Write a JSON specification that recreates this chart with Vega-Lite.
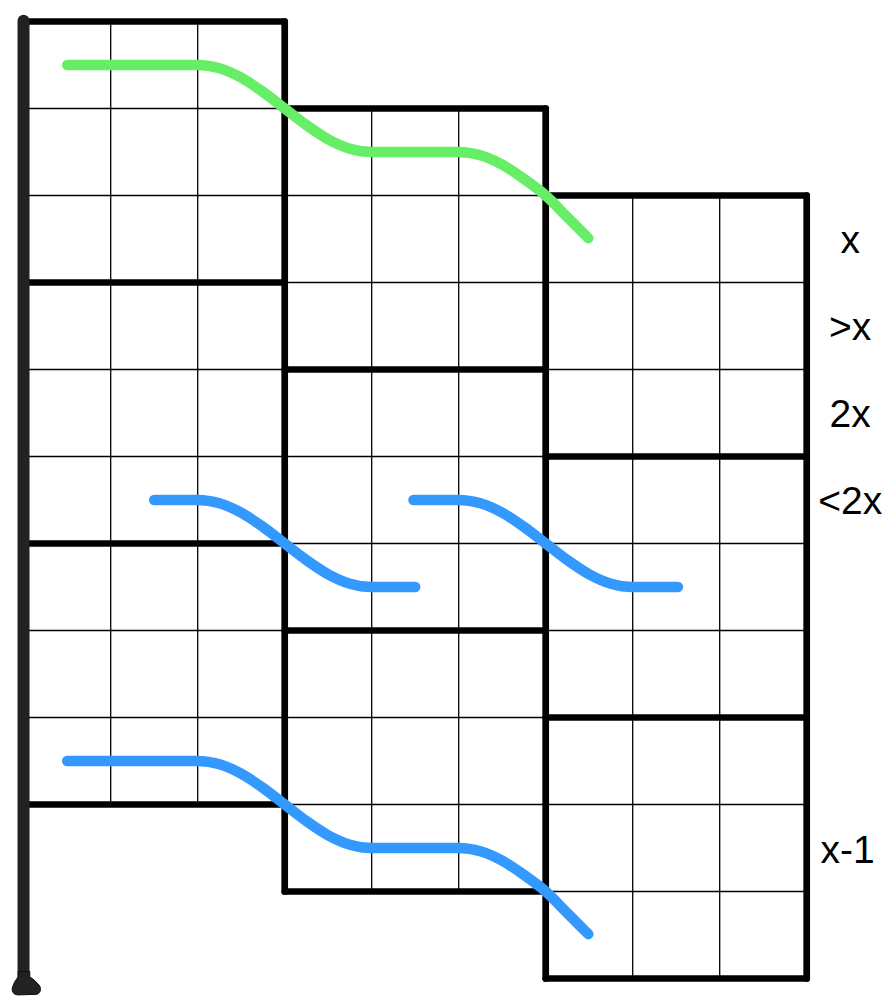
{
  "$schema": "https://vega.github.io/schema/vega-lite/v6.json",
  "width": 895,
  "height": 1000,
  "padding": 0,
  "autosize": "none",
  "background": "white",
  "config": {"view": {"stroke": null}},
  "datasets": {
    "thin": [
      {"c": 1, "r": 0, "c2": 1, "r2": 9},
      {"c": 2, "r": 0, "c2": 2, "r2": 9},
      {"c": 0, "r": 1, "c2": 3, "r2": 1},
      {"c": 0, "r": 2, "c2": 3, "r2": 2},
      {"c": 0, "r": 4, "c2": 3, "r2": 4},
      {"c": 0, "r": 5, "c2": 3, "r2": 5},
      {"c": 0, "r": 7, "c2": 3, "r2": 7},
      {"c": 0, "r": 8, "c2": 3, "r2": 8},
      {"c": 4, "r": 1, "c2": 4, "r2": 10},
      {"c": 5, "r": 1, "c2": 5, "r2": 10},
      {"c": 3, "r": 2, "c2": 6, "r2": 2},
      {"c": 3, "r": 3, "c2": 6, "r2": 3},
      {"c": 3, "r": 5, "c2": 6, "r2": 5},
      {"c": 3, "r": 6, "c2": 6, "r2": 6},
      {"c": 3, "r": 8, "c2": 6, "r2": 8},
      {"c": 3, "r": 9, "c2": 6, "r2": 9},
      {"c": 7, "r": 2, "c2": 7, "r2": 11},
      {"c": 8, "r": 2, "c2": 8, "r2": 11},
      {"c": 6, "r": 3, "c2": 9, "r2": 3},
      {"c": 6, "r": 4, "c2": 9, "r2": 4},
      {"c": 6, "r": 6, "c2": 9, "r2": 6},
      {"c": 6, "r": 7, "c2": 9, "r2": 7},
      {"c": 6, "r": 9, "c2": 9, "r2": 9},
      {"c": 6, "r": 10, "c2": 9, "r2": 10}
    ],
    "thick": [
      {"c": 0, "r": 0, "c2": 3, "r2": 0},
      {"c": 0, "r": 3, "c2": 3, "r2": 3},
      {"c": 0, "r": 6, "c2": 3, "r2": 6},
      {"c": 0, "r": 9, "c2": 3, "r2": 9},
      {"c": 3, "r": 1, "c2": 6, "r2": 1},
      {"c": 3, "r": 4, "c2": 6, "r2": 4},
      {"c": 3, "r": 7, "c2": 6, "r2": 7},
      {"c": 3, "r": 10, "c2": 6, "r2": 10},
      {"c": 6, "r": 2, "c2": 9, "r2": 2},
      {"c": 6, "r": 5, "c2": 9, "r2": 5},
      {"c": 6, "r": 8, "c2": 9, "r2": 8},
      {"c": 6, "r": 11, "c2": 9, "r2": 11},
      {"c": 3, "r": 0, "c2": 3, "r2": 10},
      {"c": 6, "r": 1, "c2": 6, "r2": 11},
      {"c": 9, "r": 2, "c2": 9, "r2": 11}
    ],
    "pole": [
      {"c": -0.002, "r": -0.01, "c2": -0.002, "r2": 11.0}
    ],
    "foot": [
      {"c": 0.032, "r": 11.075}
    ],
    "curves": [
      {"curve": "green", "c": 0.5, "r": 0.5},
      {"curve": "green", "c": 2, "r": 0.5},
      {"curve": "green", "c": 2.25, "r": 0.538},
      {"curve": "green", "c": 2.5, "r": 0.646},
      {"curve": "green", "c": 2.75, "r": 0.809},
      {"curve": "green", "c": 3, "r": 1},
      {"curve": "green", "c": 3.25, "r": 1.191},
      {"curve": "green", "c": 3.5, "r": 1.354},
      {"curve": "green", "c": 3.75, "r": 1.462},
      {"curve": "green", "c": 4, "r": 1.5},
      {"curve": "green", "c": 5, "r": 1.5},
      {"curve": "green", "c": 5.25, "r": 1.538},
      {"curve": "green", "c": 5.5, "r": 1.646},
      {"curve": "green", "c": 5.75, "r": 1.809},
      {"curve": "green", "c": 6, "r": 2},
      {"curve": "green", "c": 6.25, "r": 2.25},
      {"curve": "green", "c": 6.49, "r": 2.49},
      {"curve": "blue1", "c": 1.5, "r": 5.5},
      {"curve": "blue1", "c": 2, "r": 5.5},
      {"curve": "blue1", "c": 2.25, "r": 5.538},
      {"curve": "blue1", "c": 2.5, "r": 5.646},
      {"curve": "blue1", "c": 2.75, "r": 5.809},
      {"curve": "blue1", "c": 3, "r": 6},
      {"curve": "blue1", "c": 3.25, "r": 6.191},
      {"curve": "blue1", "c": 3.5, "r": 6.354},
      {"curve": "blue1", "c": 3.75, "r": 6.462},
      {"curve": "blue1", "c": 4, "r": 6.5},
      {"curve": "blue1", "c": 4.5, "r": 6.5},
      {"curve": "blue2", "c": 4.48, "r": 5.5},
      {"curve": "blue2", "c": 5, "r": 5.5},
      {"curve": "blue2", "c": 5.25, "r": 5.538},
      {"curve": "blue2", "c": 5.5, "r": 5.646},
      {"curve": "blue2", "c": 5.75, "r": 5.809},
      {"curve": "blue2", "c": 6, "r": 6},
      {"curve": "blue2", "c": 6.25, "r": 6.191},
      {"curve": "blue2", "c": 6.5, "r": 6.354},
      {"curve": "blue2", "c": 6.75, "r": 6.462},
      {"curve": "blue2", "c": 7, "r": 6.5},
      {"curve": "blue2", "c": 7.52, "r": 6.5},
      {"curve": "blue3", "c": 0.5, "r": 8.5},
      {"curve": "blue3", "c": 2, "r": 8.5},
      {"curve": "blue3", "c": 2.25, "r": 8.538},
      {"curve": "blue3", "c": 2.5, "r": 8.646},
      {"curve": "blue3", "c": 2.75, "r": 8.809},
      {"curve": "blue3", "c": 3, "r": 9},
      {"curve": "blue3", "c": 3.25, "r": 9.191},
      {"curve": "blue3", "c": 3.5, "r": 9.354},
      {"curve": "blue3", "c": 3.75, "r": 9.462},
      {"curve": "blue3", "c": 4, "r": 9.5},
      {"curve": "blue3", "c": 5, "r": 9.5},
      {"curve": "blue3", "c": 5.25, "r": 9.538},
      {"curve": "blue3", "c": 5.5, "r": 9.646},
      {"curve": "blue3", "c": 5.75, "r": 9.809},
      {"curve": "blue3", "c": 6, "r": 10},
      {"curve": "blue3", "c": 6.25, "r": 10.25},
      {"curve": "blue3", "c": 6.49, "r": 10.49}
    ],
    "labels": [
      {"label": "x", "c": 9.5, "r": 2.665},
      {"label": ">x", "c": 9.5, "r": 3.665},
      {"label": "2x", "c": 9.5, "r": 4.665},
      {"label": "<2x", "c": 9.5, "r": 5.665},
      {"label": "x-1", "c": 9.47, "r": 9.67}
    ]
  },
  "encoding": {
    "x": {
      "field": "c",
      "type": "quantitative",
      "scale": {"domain": [-0.2724, 10.0149], "nice": false, "zero": false},
      "axis": null
    },
    "y": {
      "field": "r",
      "type": "quantitative",
      "scale": {"domain": [-0.2471, 11.2471], "nice": false, "zero": false, "reverse": true},
      "axis": null
    }
  },
  "layer": [
    {
      "data": {"name": "thin"},
      "mark": {"type": "rule", "color": "#000000", "strokeWidth": 1.3},
      "encoding": {"x2": {"field": "c2"}, "y2": {"field": "r2"}}
    },
    {
      "data": {"name": "thick"},
      "mark": {"type": "rule", "color": "#000000", "strokeWidth": 6.7, "strokeCap": "round"},
      "encoding": {"x2": {"field": "c2"}, "y2": {"field": "r2"}}
    },
    {
      "data": {"name": "pole"},
      "mark": {"type": "rule", "color": "#222222", "strokeWidth": 12, "strokeCap": "round"},
      "encoding": {"x2": {"field": "c2"}, "y2": {"field": "r2"}}
    },
    {
      "data": {"name": "foot"},
      "mark": {
        "type": "point",
        "filled": true,
        "opacity": 1,
        "color": "#222222",
        "stroke": "#111111",
        "strokeWidth": 1,
        "size": 900,
        "shape": "M -0.55 -0.9 L 0.22 -0.9 L 0.22 -0.55 Q 0.55 -0.35 0.88 0.05 Q 1.05 0.45 0.7 0.62 L -0.6 0.66 Q -1 0.6 -0.95 0.2 Q -0.85 -0.2 -0.55 -0.55 Z"
      }
    },
    {
      "data": {"name": "curves"},
      "mark": {"type": "line", "interpolate": "monotone", "strokeWidth": 10.5, "strokeCap": "round", "strokeJoin": "round"},
      "encoding": {
        "detail": {"field": "curve"},
        "color": {
          "field": "curve",
          "type": "nominal",
          "scale": {"domain": ["green", "blue1", "blue2", "blue3"], "range": ["#66ee66", "#3399ff", "#3399ff", "#3399ff"]},
          "legend": null
        }
      }
    },
    {
      "data": {"name": "labels"},
      "mark": {"type": "text", "font": "Liberation Sans", "fontSize": 39, "align": "center", "baseline": "alphabetic", "color": "#000000"},
      "encoding": {"text": {"field": "label"}}
    }
  ]
}
